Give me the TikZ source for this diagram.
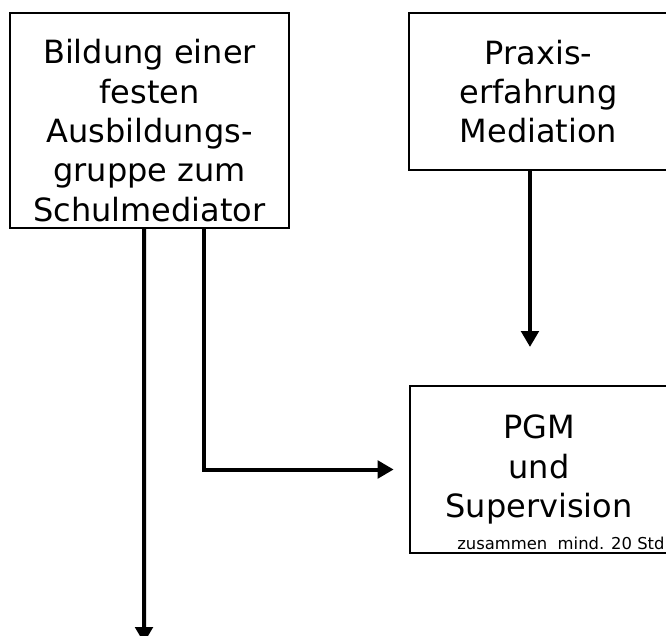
\documentclass[tikz,border=0pt]{standalone}
\usepackage{fontspec}
\setmainfont{DejaVu Sans}
\usepackage{tikz}
\usetikzlibrary{arrows.meta,positioning}

\begin{document}
\begin{tikzpicture}[
    x=0.75pt, y=-0.75pt,
    font=\fontsize{24}{29.5}\selectfont,
    box/.style={draw=black, line width=1.5pt, align=center, inner sep=0pt},
    arrow/.style={-{Triangle[length=12pt, width=13pt]}, draw=black, line width=3pt}
  ]
    \useasboundingbox (0,0) rectangle (666,635);
    \node[box, minimum width=209.25pt, minimum height=161.25pt] (bildung) at (149.5,120.5) {};
    \node[align=center, inner sep=0pt] (bildungtext) at ([yshift=-7.5pt]bildung.center)
      {Bildung einer\\festen\\Ausbildungs-\\gruppe zum\\Schulmediator};
    \node[box, minimum width=194.25pt, minimum height=117.75pt] (praxis) at (538.5,91.5)
      {Praxis-\\erfahrung\\Mediation};
    \node[box, minimum width=193.5pt, minimum height=125.25pt] (pgm) at (539,469.5)
      {PGM\\und\\Supervision};
    \node[anchor=south west, inner sep=0pt, font=\fontsize{12.3}{14}\selectfont] (pgmnote) at (457,550)
      {zusammen\ \ mind. 20 Std};
    \coordinate (ende) at (144,643);
    \draw[arrow] ([xshift=-4.1pt]bildung.south) -- (ende);
    \draw[arrow, shorten >=11.5pt] ([xshift=40.9pt]bildung.south) |- (pgm.west);
    \draw[arrow, shorten >=28.5pt] ([xshift=-6.4pt]praxis.south) -- ([xshift=-6.4pt]praxis.south |- pgm.north);
  \end{tikzpicture}
\end{document}
